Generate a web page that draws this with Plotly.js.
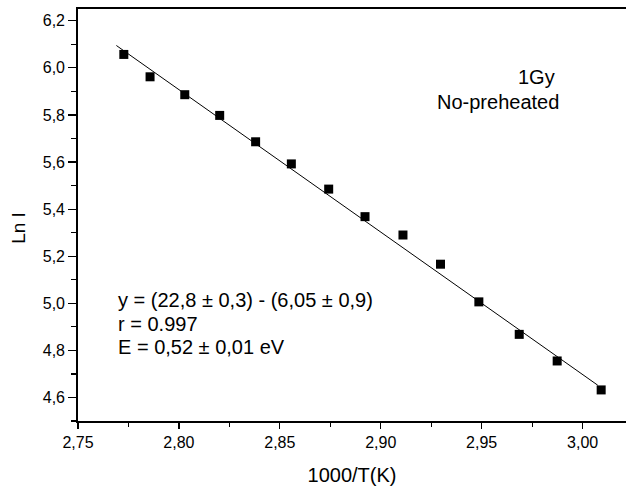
<!DOCTYPE html>
<html><head><meta charset="utf-8">
<script src="https://cdn.plot.ly/plotly-3.0.1.min.js"></script>
<style>html,body{margin:0;padding:0;background:#fff}</style>
</head><body><div id="chart" style="width:626px;height:487px"></div>
<script>
// data
const invT = [2.7727,2.7857,2.8029,2.8202,2.8380,2.8557,2.8742,2.8922,2.9110,2.9296,2.9486,2.9686,2.9874,3.0092];
const lnI  = [6.057,5.962,5.886,5.798,5.686,5.592,5.485,5.368,5.290,5.166,5.006,4.868,4.755,4.632];
const fitX = [2.769, 3.0075];
const fitY = [6.095, 4.652];
const xTickVals = [2.75,2.80,2.85,2.90,2.95,3.00];
const yTickVals = [4.6,4.8,5.0,5.2,5.4,5.6,5.8,6.0,6.2];
const noteLines = ["1Gy","No-preheated"];
const fitLines = ["y = (22,8 \u00B1 0,3) - (6,05 \u00B1 0,9)", "r = 0.997", "E = 0,52 \u00B1 0,01 eV"];
const xTitle = "1000/T(K)";
const yTitle = "Ln I";

const FONT = "Liberation Sans, Arial, Helvetica, sans-serif";

const traces = [
  {x: fitX, y: fitY, mode: 'lines', line: {color: '#000', width: 1}, hoverinfo: 'skip', showlegend: false},
  {x: invT, y: lnI, mode: 'markers', marker: {symbol: 'square', size: 9, color: '#000'}, showlegend: false}
];

const ann = [];
ann.push({text: noteLines[0], xref: 'paper', yref: 'paper', x: 0.874, y: 0.835, xanchor: 'right', yanchor: 'middle', showarrow: false, font: {family: FONT, size: 20, color: '#000'}});
ann.push({text: noteLines[1], xref: 'paper', yref: 'paper', x: 0.8814, y: 0.775, xanchor: 'right', yanchor: 'middle', showarrow: false, font: {family: FONT, size: 20, color: '#000'}});
const fitYs = [0.294, 0.2357, 0.1798];
fitLines.forEach((t, i) => ann.push({text: t, xref: 'paper', yref: 'paper', x: 0.069, y: fitYs[i], xanchor: 'left', yanchor: 'middle', showarrow: false, font: {family: FONT, size: 20, color: '#000'}}));
// y axis title placed as in the reference
ann.push({text: yTitle, xref: 'paper', yref: 'paper', x: -0.1086, y: 0.470, xanchor: 'center', yanchor: 'middle', textangle: -90, showarrow: false, font: {family: FONT, size: 19, color: '#000'}});

const layout = {
  width: 626, height: 487,
  margin: {l: 78, r: 0, t: 9, b: 66},
  paper_bgcolor: '#fff', plot_bgcolor: '#fff',
  separators: ', ',
  font: {family: FONT, color: '#000'},
  showlegend: false,
  xaxis: {
    range: [2.75, 3.0215], tickvals: xTickVals, tickformat: '.2f',
    showgrid: false, zeroline: false, showline: true, linecolor: '#000', linewidth: 1.8, mirror: true,
    ticks: 'outside', ticklen: 6, tickwidth: 1.2, tickcolor: '#000',
    minor: {dtick: 0.025, tick0: 2.75, ticks: 'outside', ticklen: 4, tickwidth: 1.2, tickcolor: '#000', showgrid: false},
    tickfont: {family: FONT, size: 16, color: '#000'},
    title: {text: xTitle, font: {family: FONT, size: 20, color: '#000'}, standoff: 18}
  },
  yaxis: {
    range: [4.5, 6.25], tickvals: yTickVals, tickformat: '.1f',
    showgrid: false, zeroline: false, showline: true, linecolor: '#000', linewidth: 1.8, mirror: false,
    ticks: 'outside', ticklen: 8, tickwidth: 1.2, tickcolor: '#000',
    minor: {dtick: 0.1, tick0: 4.5, ticks: 'outside', ticklen: 5, tickwidth: 1.2, tickcolor: '#000', showgrid: false},
    tickfont: {family: FONT, size: 16, color: '#000'}
  },
  annotations: ann
};

Plotly.newPlot('chart', traces, layout, {displayModeBar: false, staticPlot: true});
</script></body></html>
